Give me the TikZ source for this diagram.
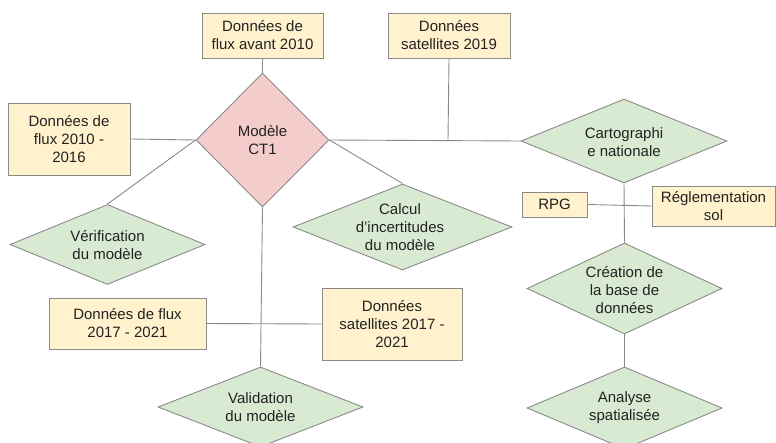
\documentclass[tikz,border=0pt]{standalone}
\usepackage{fontspec}
\setmainfont{Liberation Sans}
\usetikzlibrary{shapes.geometric}
\definecolor{boxfill}{HTML}{FFF2CC}
\definecolor{pinkfill}{HTML}{F4CCCC}
\definecolor{greenfill}{HTML}{D9EAD3}
\definecolor{edge}{HTML}{8A8A8A}
\definecolor{txtcol}{HTML}{222222}
\begin{document}
\begin{tikzpicture}[x=1pt,y=-1pt,
  every node/.style={font=\fontsize{15}{18}\selectfont, text=txtcol},
  databox/.style={draw=edge, line width=0.9pt, fill=boxfill, inner sep=0pt, align=center},
  dia/.style={diamond, draw=edge, line width=0.9pt, inner sep=0pt},
  diapink/.style={dia, fill=pinkfill},
  diagreen/.style={dia, fill=greenfill},
  lbl/.style={align=center, inner sep=0pt},
  conn/.style={draw=edge, line width=0.9pt}]
\useasboundingbox (0,0) rectangle (776,442);
\begin{scope}
\clip (0,0) rectangle (776,442);
% connectors first (behind shapes)
\node[databox, minimum width=121pt, minimum height=45pt] (fa) at (262.5,35.5) {Données de\\flux avant 2010};
\node[databox, minimum width=122pt, minimum height=72pt] (f1016) at (69,139) {Données de\\flux 2010 -\\2016};
\node[databox, minimum width=122pt, minimum height=45pt] (s19) at (449,35.5) {Données\\satellites 2019};
\node[databox, minimum width=65pt, minimum height=25pt] (rpg) at (554.5,204.5) {RPG};
\node[databox, minimum width=123pt, minimum height=40pt] (regl) at (713.5,206) {Réglementation\\sol};
\node[databox, minimum width=157pt, minimum height=51pt] (f1721) at (127.5,323.5) {Données de flux\\2017 - 2021};
\node[databox, minimum width=140pt, minimum height=72pt] (s1721) at (392,324) {Données\\satellites 2017 -\\2021};

\node[diapink, minimum width=133pt, minimum height=134pt] (mod) at (262.5,140) {};
\node[diagreen, minimum width=206pt, minimum height=84pt] (carto) at (624,141) {};
\node[diagreen, minimum width=219pt, minimum height=86pt] (calc) at (402.5,227) {};
\node[diagreen, minimum width=195pt, minimum height=80pt] (verif) at (107.5,244.5) {};
\node[diagreen, minimum width=195pt, minimum height=91pt] (crea) at (624.5,288.5) {};
\node[diagreen, minimum width=205pt, minimum height=80pt] (valid) at (260.5,407) {};
\node[diagreen, minimum width=195pt, minimum height=82pt] (anal) at (624.5,408) {};

\coordinate (j1) at (448,140);
\coordinate (j2) at (625,205);
\coordinate (j3) at (261,324);

\begin{scope}[on background layer/.style={}]
\end{scope}

\draw[conn] (fa.south) -- (mod.north);
\draw[conn] (f1016.east) -- (mod.west);
\draw[conn] (mod.east) -- (carto.west);
\draw[conn] (s19.south) -- (j1);
\draw[conn] (mod.west) -- (verif.north);
\draw[conn] (mod.east) -- (calc.north);
\draw[conn] (mod.south) -- (valid.north);
\draw[conn] (f1721.east) -- (s1721.west);
\draw[conn] (carto.south) -- (crea.north);
\draw[conn] (rpg.east) -- (regl.west);
\draw[conn] (crea.south) -- (anal.north);

\node[lbl] (modt) at (262.5,140.5) {Modèle\\CT1};
\node[lbl] (cartot) at (624,142) {Cartographi\\e nationale};
\node[lbl] (calct) at (400,227) {Calcul\\d’incertitudes\\du modèle};
\node[lbl] (verift) at (107.5,245) {Vérification\\du modèle};
\node[lbl] (creat) at (624.5,290) {Création de\\la base de\\données};
\node[lbl] (validt) at (260.5,407.5) {Validation\\du modèle};
\node[lbl] (analt) at (624.5,407.5) {Analyse\\spatialisée};
\end{scope}
\end{tikzpicture}
\end{document}
